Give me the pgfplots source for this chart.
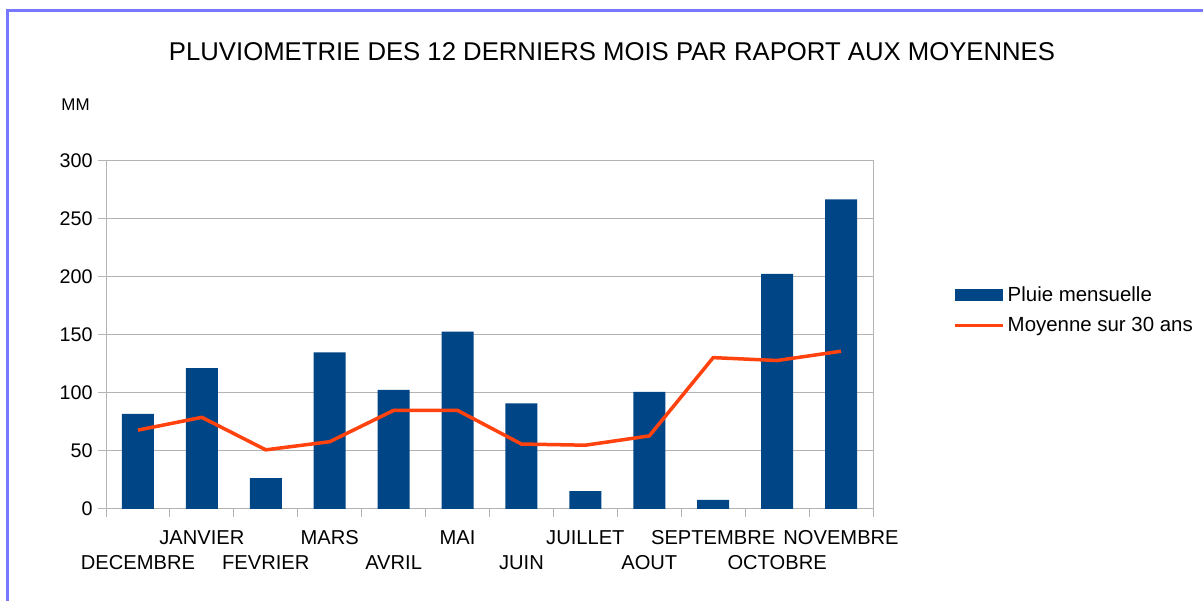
\documentclass[border=0pt]{standalone}
\usepackage{fontspec}
\setmainfont{Liberation Sans}
\usepackage{pgfplots}
\pgfplotsset{compat=1.18}
\definecolor{barblue}{HTML}{004586}
\definecolor{lineorange}{HTML}{FF420E}
\definecolor{gridgray}{HTML}{B3B3B3}
\definecolor{framecol}{HTML}{7777FF}
\begin{document}
\begin{tikzpicture}
\useasboundingbox (0,0) rectangle (1203bp,601bp);
\begin{scope}
\clip (0,0) rectangle (1203bp,601bp);
\fill[white] (0,0) rectangle (1203bp,601bp);
\draw[framecol, line width=2.8bp] (7.5bp,-5bp) -- (7.5bp,590.5bp) -- (1210bp,590.5bp);
\end{scope}
\node[font=\fontsize{25.8}{30}\selectfont] at (612bp,549bp) {PLUVIOMETRIE DES 12 DERNIERS MOIS PAR RAPORT AUX MOYENNES};
\node[font=\fontsize{17}{20}\selectfont] at (75.5bp,496bp) {MM};
\begin{axis}[
  at={(106bp,92bp)}, anchor=south west,
  scale only axis, width=767bp, height=348bp,
  xmin=-0.5, xmax=11.5, ymin=0, ymax=300,
  axis line style={gridgray, line width=1bp},
  xtick={0,...,11},
  xticklabels={{\strut\\DECEMBRE},{JANVIER\\\strut},{\strut\\FEVRIER},{MARS\\\strut},{\strut\\AVRIL},{MAI\\\strut},{\strut\\JUIN},{JUILLET\\\strut},{\strut\\AOUT},{SEPTEMBRE\\\strut},{\strut\\OCTOBRE},{NOVEMBRE\\\strut}},
  xticklabel style={align=center, font=\fontsize{20.2}{23}\selectfont, inner sep=0pt, yshift=-13bp},
  major x tick style={draw=none},
  minor xtick={-0.5,0.5,...,11.5},
  minor x tick style={gridgray, line width=1bp},
  minor tick length=8bp,
  ytick={0,50,...,300},
  yticklabel style={font=\fontsize{19.8}{23}\selectfont, xshift=-2bp},
  major y tick style={gridgray, line width=1bp},
  major tick length=8bp,
  tick align=outside,
  xtick pos=bottom, ytick pos=left,
  ymajorgrids, grid style={gridgray, line width=1bp},
  /pgf/number format/assume math mode=true,
  legend style={at={(1.105,0.572)}, anchor=west, draw=none, fill=none,
    font=\fontsize{20.5}{23}\selectfont, row sep=10bp, inner sep=0pt,
    nodes={inner xsep=3bp}},
  legend cell align=left,
]
\addplot[ybar, bar width=32bp, fill=barblue, draw=none,
  legend image code/.code={\fill[barblue] (0bp,-6bp) rectangle (48bp,6bp);}]
  coordinates {(0,82) (1,121.5) (2,26.7) (3,135) (4,102.6) (5,153) (6,91) (7,15.5) (8,101) (9,7.8) (10,202.6) (11,267)};
\addlegendentry{Pluie mensuelle}
\addplot[lineorange, line width=3.5bp, mark=none,
  legend image code/.code={\draw[lineorange, line width=3bp] (0bp,0bp) -- (48bp,0bp);}]
  coordinates {(0,68) (1,79) (2,51) (3,58) (4,85) (5,85) (6,56) (7,55) (8,63) (9,130.5) (10,128) (11,136)};
\addlegendentry{Moyenne sur 30 ans}
\end{axis}
\end{tikzpicture}
\end{document}
